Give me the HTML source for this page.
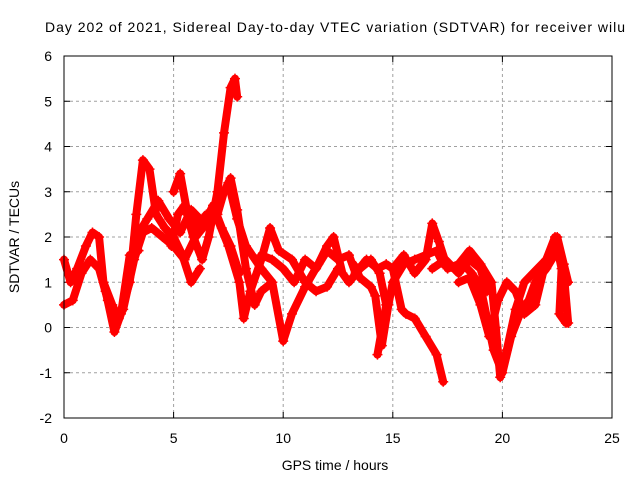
<!DOCTYPE html>
<html><head><meta charset="utf-8"><style>
body{margin:0;background:#fff}
svg{display:block;font-family:"Liberation Sans",sans-serif}
</style></head><body>
<svg id="chart" width="640" height="480">
<rect width="640" height="480" fill="#fff"/>
<text x="45" y="32" font-size="14" textLength="580" lengthAdjust="spacing">Day 202 of 2021, Sidereal Day-to-day VTEC variation (SDTVAR) for receiver wilu</text>
<g id="grid"></g>
<g id="ticks"></g>
<g id="series"></g>
<rect x="64" y="56" width="548" height="362" fill="none" stroke="#000" stroke-width="1"/>
<text x="335" y="470" font-size="14" text-anchor="middle">GPS time / hours</text>
<text transform="translate(19,237) rotate(-90)" font-size="14" text-anchor="middle">SDTVAR / TECUs</text>
</svg>
<script>
const xTicks=[0,5,10,15,20,25];
const yTicks=[-2,-1,0,1,2,3,4,5,6];
const s1=[[0,1.5],[0.3,1.0],[0.6,1.3],[1.0,1.8],[1.3,2.1],[1.6,2.0],[1.8,1.0],[2.2,0.5],[2.5,0.2],[3.0,1.0],[3.3,2.5],[3.6,3.7],[3.9,3.5],[4.2,2.5],[4.6,2.2],[5.0,2.0],[5.4,1.6],[5.8,1.0],[6.2,1.3]];
const s2=[[0,0.5],[0.4,0.6],[0.8,1.2],[1.2,1.5],[1.6,1.3],[2.0,0.6],[2.3,0.1],[2.7,0.4],[3.2,1.5],[3.6,2.1],[4.0,2.2],[4.5,2.0],[5.0,1.8],[5.5,1.5],[6.0,2.0],[6.5,2.3],[7.0,2.5],[7.3,3.0],[7.6,3.3],[7.9,2.6],[8.3,1.3],[8.7,0.5],[9.0,0.8],[9.5,1.0]];
const s3=[[4.9,1.8],[5.2,2.5],[5.5,2.7],[5.9,2.0],[6.3,1.5],[6.6,2.0],[7.0,3.0],[7.3,4.3],[7.6,5.3],[7.8,5.5],[7.9,5.1]];
const s4=[[5.0,3.0],[5.3,3.4],[5.6,2.6],[6.0,2.2],[6.5,2.5],[7.0,2.4],[7.5,1.8],[8.0,1.0],[8.2,0.2],[8.5,0.8],[9.0,1.5],[9.4,2.2],[9.8,1.7],[10.4,1.5],[11,1.0],[11.5,0.8],[12,0.9],[12.5,1.3]];
const s5=[[7.5,3.2],[7.9,2.4],[8.3,1.8],[9,1.3],[9.5,1.0],[10,-0.3],[10.4,0.3],[11,0.9],[11.6,1.4],[12,1.8],[12.3,2.0],[12.7,1.2],[13,1.0],[13.5,1.3],[14,1.5],[14.4,1.2],[14.7,0.5],[14.3,-0.6]];
const s6=[[9.0,1.6],[9.5,1.5],[10,1.3],[10.5,1.0],[11,1.5],[11.5,1.3],[12,1.7],[12.5,1.5],[13,1.6],[13.3,1.2],[13.8,1.5],[14.3,1.3],[14.7,1.4],[15,1.3],[15.4,0.4],[15.6,0.3],[16,0.2],[16.5,-0.2],[17,-0.6],[17.3,-1.2]];
const s7=[[13.2,1.4],[13.5,1.1],[14,0.9],[14.2,0.7],[14.5,-0.4],[14.8,0.5],[15,1.0],[15.5,1.4],[16,1.5],[16.5,1.6],[17,1.7],[17.3,1.4],[17.8,1.3],[18.2,1.4],[18.6,1.2],[19,0.9],[19.3,0.2],[19.6,-0.5],[20,-1.0],[20.4,-0.2],[20.8,0.3],[21.2,0.6],[21.5,1.0],[22,1.3],[22.5,1.7],[22.8,1.2],[23,0.1]];
const s8=[[15,1.3],[15.5,1.6],[16,1.2],[16.5,1.5],[16.8,2.3],[17.1,1.9],[17.5,1.3],[18,1.4],[18.5,1.7],[19,1.4],[19.5,1.0],[19.7,0.0],[19.9,-1.1],[20.2,-0.5],[20.6,0.4],[21,1.0],[21.4,1.2],[22,1.5],[22.5,2.0],[22.8,1.4],[23,1.0]];
const s9=[[18,1.0],[18.5,1.1],[19,0.5],[19.4,-0.2],[19.8,0.6],[20.2,1.0],[20.6,0.8],[21,0.3],[21.5,0.5],[22,1.5],[22.4,2.0],[22.7,1.3],[22.6,0.3],[22.9,0.1]];
const s10=[[1.9,0.8],[2.3,-0.1],[2.6,0.3],[3.0,1.6],[3.4,1.7]];
const s11=[[3.3,2.0],[3.8,2.4],[4.3,2.8],[4.8,2.4],[5.3,2.1],[5.8,2.6],[6.4,2.3],[6.8,2.7],[7.2,2.2],[7.6,1.8],[8.0,1.2]];
const s12=[[16.8,1.3],[17.4,1.5],[18.0,1.2],[18.5,1.5],[19.0,1.3],[19.3,0.8]];
const allSeries=[s1,s2,s3,s4,s5,s6,s7,s8,s9,s10,s11,s12];

const NS="http://www.w3.org/2000/svg";
const X0=64,X1=612,Y0=418,Y1=56;
const xs=h=>X0+(h-0)/(25-0)*(X1-X0);
const ys=v=>Y0-(v+2)/(6+2)*(Y0-Y1);
function mk(tag,attrs,parent){const e=document.createElementNS(NS,tag);for(const k in attrs)e.setAttribute(k,attrs[k]);parent.appendChild(e);return e;}
const grid=document.getElementById('grid'),ticks=document.getElementById('ticks'),ser=document.getElementById('series');
xTicks.forEach(t=>{
  const x=xs(t);
  if(t>0&&t<25){const l=mk('line',{x1:x,x2:x,y1:Y1,y2:Y0,stroke:'#a0a0a0','stroke-dasharray':'3,3'},grid);
  
  }
  mk('line',{x1:x,x2:x,y1:Y0,y2:Y0-6,stroke:'#000'},ticks);
  mk('line',{x1:x,x2:x,y1:Y1,y2:Y1+6,stroke:'#000'},ticks);
  const tx=mk('text',{x:x,y:443,'font-size':14,'text-anchor':'middle'},ticks);
  tx.textContent=t;
  
  
});
yTicks.forEach(t=>{
  const y=ys(t);
  if(t>-2&&t<6){const l=mk('line',{x1:X0,x2:X1,y1:y,y2:y,stroke:'#a0a0a0','stroke-dasharray':'3,3'},grid);
  
  }
  mk('line',{x1:X0,x2:X0+6,y1:y,y2:y,stroke:'#000'},ticks);
  mk('line',{x1:X1,x2:X1-6,y1:y,y2:y,stroke:'#000'},ticks);
  const tx=mk('text',{x:52,y:y+5,'font-size':14,'text-anchor':'end'},ticks);
  tx.textContent=t;
  
  
});
allSeries.forEach((s,i)=>{
  const pl=mk('polyline',{points:s.map(p=>xs(p[0])+','+ys(p[1])).join(' '),fill:'none',stroke:'#ff0000','stroke-width':8,'stroke-linejoin':'round','stroke-linecap':'round'},ser);
  
  
  s.forEach(p=>{
    const x=xs(p[0]),y=ys(p[1]);
    const m=mk('path',{d:`M${x-5},${y}H${x+5}M${x},${y-5}V${y+5}`,stroke:'#ff0000','stroke-width':1.5},ser);
    
    
  });
});
</script>
</body></html>
